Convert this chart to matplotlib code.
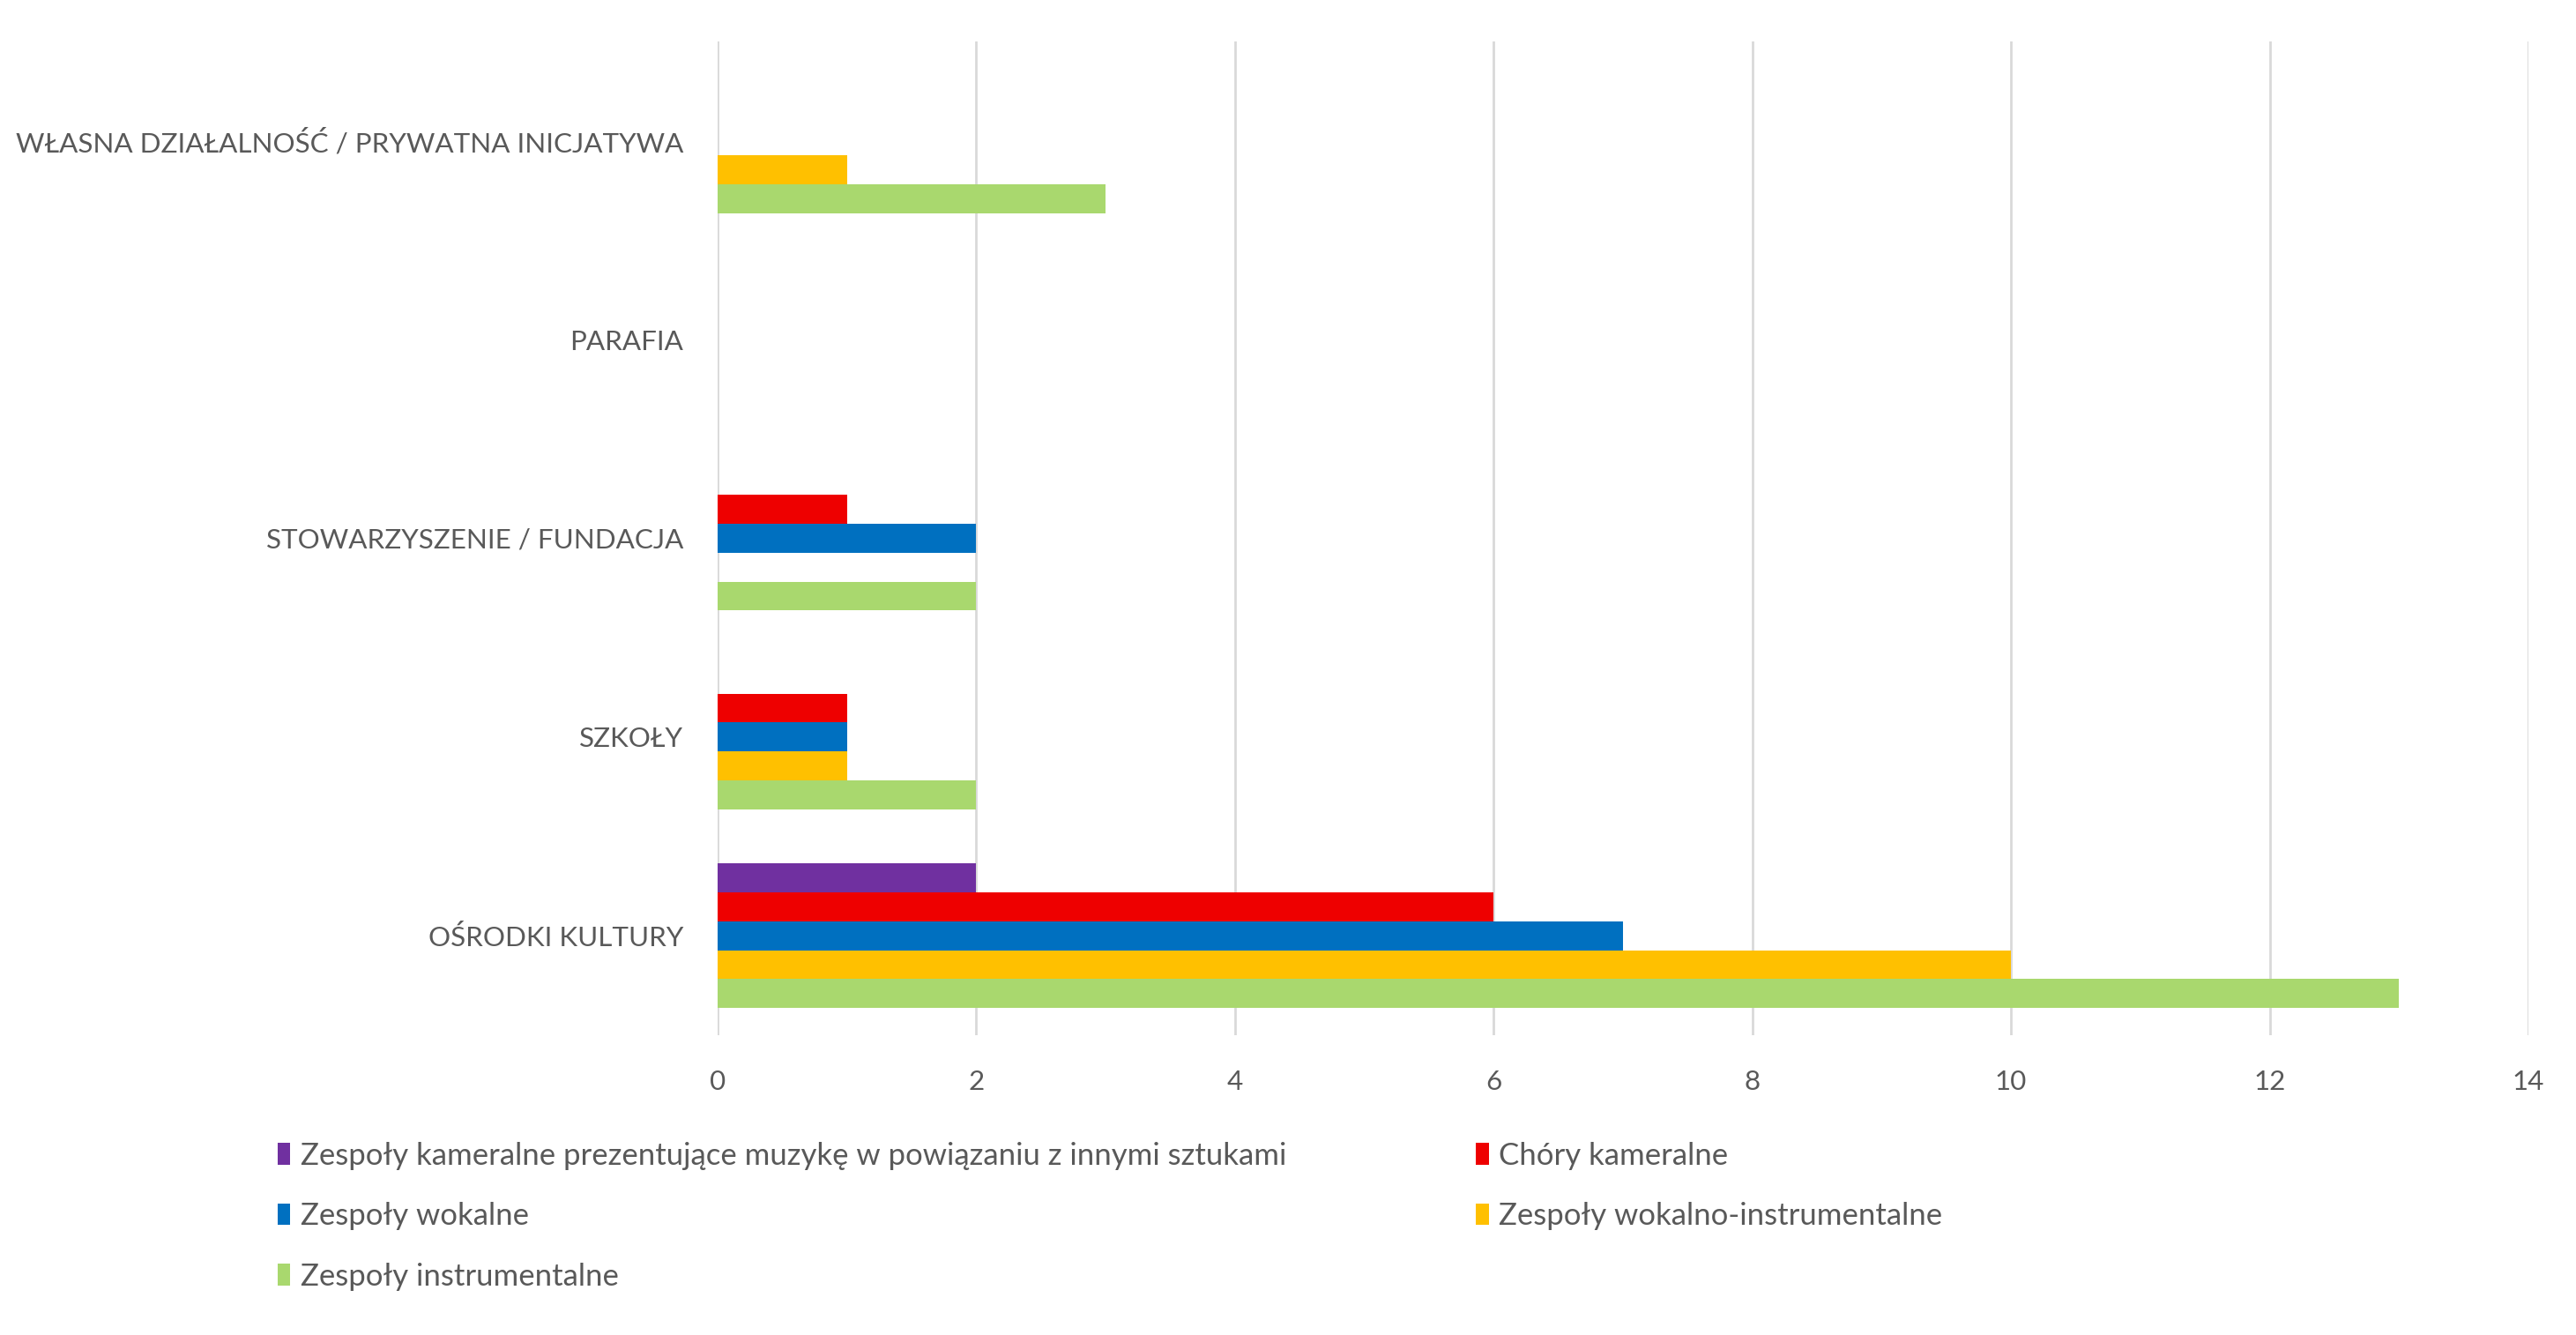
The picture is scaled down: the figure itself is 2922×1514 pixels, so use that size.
import numpy as np
import matplotlib.pyplot as plt

plt.rcParams['font.family'] = ['Lato', 'DejaVu Sans']

categories = ["OŚRODKI KULTURY", "SZKOŁY", "STOWARZYSZENIE / FUNDACJA",
              "PARAFIA", "WŁASNA DZIAŁALNOŚĆ / PRYWATNA INICJATYWA"]
series_names = [
    "Zespoły kameralne prezentujące muzykę w powiązaniu z innymi sztukami",
    "Chóry kameralne",
    "Zespoły wokalne",
    "Zespoły wokalno-instrumentalne",
    "Zespoły instrumentalne",
]
kameralne_sztuki = [2, 0, 0, 0, 0]
chory = [6, 1, 1, 0, 0]
wokalne = [7, 1, 2, 0, 0]
wokalno_instr = [10, 1, 0, 0, 1]
instrumentalne = [13, 2, 2, 0, 3]
colors = ["#7030A0", "#EE0000", "#0070C0", "#FFC000", "#A9D86E"]

values = [kameralne_sztuki, chory, wokalne, wokalno_instr, instrumentalne]
text_col = "#595959"

fig = plt.figure(figsize=(29.22, 15.14), dpi=100)
ax = fig.add_axes([0.2786, 0.2246, 0.7029, 0.7444])

y = np.arange(len(categories))
h = 0.1455
handles = []
for i, (name, vals, col) in enumerate(zip(series_names, values, colors)):
    off = (2 - i) * h
    b = ax.barh(y + off, vals, height=h, color=col, label=name, zorder=3)
    handles.append(b)

ax.set_xlim(0, 14)
ax.set_ylim(-0.5, 4.5)
ax.set_xticks(np.arange(0, 15, 2))
ax.set_yticks(y)
ax.set_yticklabels(categories)
ax.tick_params(axis="both", length=0, labelsize=22.6, labelcolor=text_col)
ax.tick_params(axis="x", pad=28)
ax.tick_params(axis="y", pad=28)
ax.grid(axis="x", color="#D9D9D9", linewidth=2, zorder=0)
for s in ax.spines.values():
    s.set_visible(False)

order = [0, 2, 4, 1, 3]
fig.legend([handles[i] for i in order], [series_names[i] for i in order],
           loc="upper left", bbox_to_anchor=(0.103, 0.154), ncol=2,
           frameon=False, fontsize=25, labelcolor=text_col,
           handlelength=0.42, handleheight=0.7, handletextpad=0.32,
           columnspacing=6.2, labelspacing=1.05, borderaxespad=0)

fig.savefig("out.png", dpi=100)
